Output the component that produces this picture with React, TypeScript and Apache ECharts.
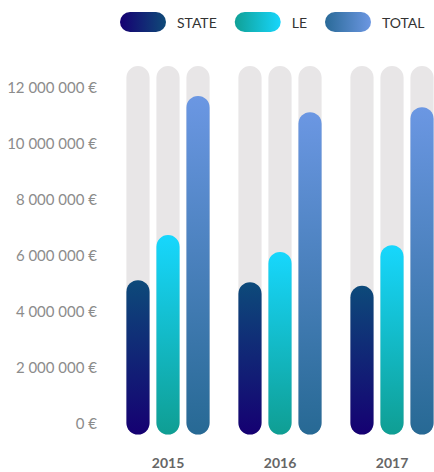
import React, { useEffect, useRef } from "react";
import * as echarts from "echarts";

const years = ["2015", "2016", "2017"];
const seriesNames = ["STATE", "LE", "TOTAL"];
const stateValues = [5100000, 5030000, 4900000];
const leValues = [6710000, 6110000, 6350000];
const totalValues = [11680000, 11100000, 11280000];
const backgroundMax = 12750000;
const yTickInterval = 2000000;

const vGrad = (top: string, bottom: string) =>
  new echarts.graphic.LinearGradient(0, 0, 0, 1, [
    { offset: 0, color: top },
    { offset: 1, color: bottom },
  ]);
const hGrad = (left: string, right: string) =>
  new echarts.graphic.LinearGradient(0, 0, 1, 0, [
    { offset: 0, color: left },
    { offset: 1, color: right },
  ]);

const palette = [
  { top: "#0d4a7a", bottom: "#150072", left: "#150072", right: "#0f4a78" },
  { top: "#17d7fd", bottom: "#0f9e93", left: "#10a096", right: "#17d6fc" },
  { top: "#6b97e3", bottom: "#276994", left: "#2a6a98", right: "#6c97e2" },
];

const fmt = (v: number) =>
  String(v).replace(/\B(?=(\d{3})+(?!\d))/g, " ") + " €";

const pill =
  "path://M10,0 H36 A10,10 0 0 1 36,20 H10 A10,10 0 0 1 10,0 Z";

export default function App() {
  const ref = useRef<HTMLDivElement>(null);
  useEffect(() => {
    if (!ref.current) return;
    const chart = echarts.init(ref.current, undefined, { renderer: "svg" });
    const allValues = [stateValues, leValues, totalValues];

    const makeRender = (slot: number, fill: any) => (params: any, api: any) => {
      const cat = api.value(0);
      const val = api.value(1);
      const pTop = api.coord([cat, val]);
      const y0 = api.coord([cat, 0])[1];
      const yMax = api.coord([cat, backgroundMax])[1];
      const band = api.size([1, 0])[0];
      const w = band * 0.207;
      const step = band * 0.268;
      const x = pTop[0] + (slot - 1) * step - w / 2;
      const bottom = y0 + w / 2;
      return {
        type: "group",
        children: [
          {
            type: "rect",
            shape: { x, y: yMax, width: w, height: bottom - yMax, r: w / 2 },
            style: { fill: "#e8e6e7" },
          },
          {
            type: "rect",
            shape: { x, y: pTop[1], width: w, height: bottom - pTop[1], r: w / 2 },
            style: { fill },
          },
        ],
      };
    };

    chart.setOption({
      animation: false,
      legend: {
        left: 115,
        top: 7,
        width: 319,
        itemWidth: 46,
        itemHeight: 20,
        itemGap: 18,
        icon: pill,
        textStyle: {
          fontFamily: "Lato",
          fontSize: 14,
          color: "#333",
          padding: [0, 0, 0, 6],
        },
        data: seriesNames.map((n, i) => ({
          name: n,
          itemStyle: { color: hGrad(palette[i].left, palette[i].right) },
        })),
      },
      grid: { left: 112, top: 66, bottom: 49, right: -14, outerBoundsMode: "none" },
      xAxis: {
        type: "category",
        data: years,
        axisLine: { show: false },
        axisTick: { show: false },
        axisLabel: {
          margin: 32,
          fontFamily: "Lato",
          fontSize: 14,
          fontWeight: "bold",
          color: "#666",
        },
      },
      yAxis: {
        type: "value",
        min: 0,
        max: backgroundMax,
        interval: yTickInterval,
        axisLine: { show: false },
        axisTick: { show: false },
        splitLine: { show: false },
        axisLabel: {
          showMaxLabel: false,
          margin: 15,
          fontFamily: "Lato",
          fontSize: 15,
          color: "#8c8c8c",
          formatter: (v: number) => fmt(v),
        },
      },
      series: seriesNames.map((name, i) => ({
        name,
        type: "custom",
        clip: false,
        itemStyle: { color: palette[i].right },
        encode: { x: 0, y: 1 },
        data: allValues[i].map((v, j) => [j, v]),
        renderItem: makeRender(i, vGrad(palette[i].top, palette[i].bottom)),
      })),
    });
    return () => chart.dispose();
  }, []);
  return (
    <div
      ref={ref}
      style={{ position: "absolute", left: 0, top: 0, width: 434, height: 472 }}
    />
  );
}
